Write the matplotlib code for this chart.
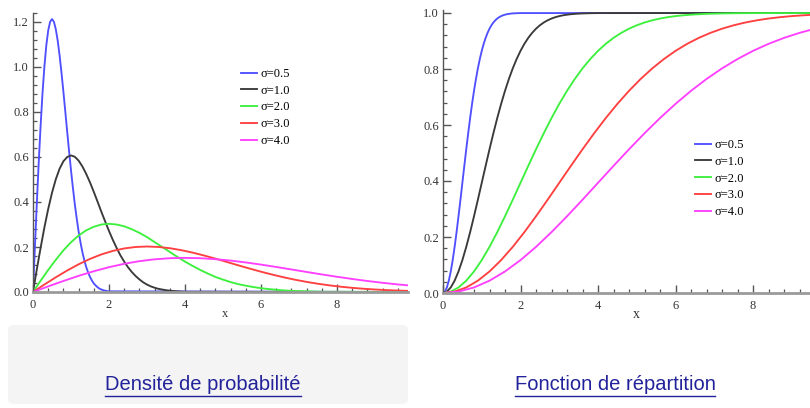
import matplotlib
matplotlib.use("Agg")
import matplotlib.pyplot as plt
from matplotlib.ticker import MultipleLocator, AutoMinorLocator, FormatStrFormatter
from matplotlib.patches import FancyBboxPatch
from matplotlib.lines import Line2D

# ---------------- data ----------------
labels = ["σ=0.5", "σ=1.0", "σ=2.0", "σ=3.0", "σ=4.0"]
colors = ["#5050ff", "#3a3a3a", "#3ef03e", "#ff4040", "#ff40ff"]

# x positions where values were read
x_05 = [0, 0.05, 0.1, 0.15, 0.2, 0.25, 0.3, 0.35, 0.4, 0.45, 0.5, 0.55, 0.6, 0.65,
        0.7, 0.75, 0.8, 0.85, 0.9, 0.95, 1.0, 1.05, 1.1, 1.15, 1.2, 1.25, 1.3,
        1.35, 1.4, 1.45, 1.5, 1.55, 1.6, 1.65, 1.7, 1.75, 1.8, 1.85, 1.9, 1.95,
        2.0, 9.9]
x_10 = [0, 0.1, 0.2, 0.3, 0.4, 0.5, 0.6, 0.7, 0.8, 0.9, 1.0, 1.1, 1.2, 1.3, 1.4,
        1.5, 1.6, 1.7, 1.8, 1.9, 2.0, 2.1, 2.2, 2.3, 2.4, 2.5, 2.6, 2.7, 2.8, 2.9,
        3.0, 3.1, 3.2, 3.3, 3.4, 3.5, 3.6, 3.7, 3.8, 3.9, 4.0, 9.9]
x_20 = [0, 0.2, 0.4, 0.6, 0.8, 1.0, 1.2, 1.4, 1.6, 1.8, 2.0, 2.2, 2.4, 2.6, 2.8,
        3.0, 3.2, 3.4, 3.6, 3.8, 4.0, 4.2, 4.4, 4.6, 4.8, 5.0, 5.2, 5.4, 5.6, 5.8,
        6.0, 6.2, 6.4, 6.6, 6.8, 7.0, 7.2, 7.4, 7.6, 7.8, 8.0, 9.9]
x_30 = [0, 0.3, 0.6, 0.9, 1.2, 1.5, 1.8, 2.1, 2.4, 2.7, 3.0, 3.3, 3.6, 3.9, 4.2,
        4.5, 4.8, 5.1, 5.4, 5.7, 6.0, 6.3, 6.6, 6.9, 7.2, 7.5, 7.8, 8.1, 8.4, 8.7,
        9.0, 9.3, 9.6, 9.9]
x_40 = [0, 0.4, 0.8, 1.2, 1.6, 2.0, 2.4, 2.8, 3.2, 3.6, 4.0, 4.4, 4.8, 5.2, 5.6,
        6.0, 6.4, 6.8, 7.2, 7.6, 8.0, 8.4, 8.8, 9.2, 9.6, 10.0]

# Probability density values
pdf_05 = [0, 0.199, 0.392, 0.574, 0.738, 0.883, 1.002, 1.096, 1.162, 1.201, 1.213,
          1.201, 1.168, 1.117, 1.051, 0.974, 0.890, 0.802, 0.712, 0.625, 0.541,
          0.463, 0.391, 0.327, 0.269, 0.220, 0.177, 0.141, 0.111, 0.087, 0.067,
          0.051, 0.038, 0.029, 0.021, 0.015, 0.011, 0.008, 0.006, 0.004, 0.003, 0.0]
pdf_10 = [0, 0.100, 0.196, 0.287, 0.369, 0.441, 0.501, 0.548, 0.581, 0.600, 0.607,
          0.601, 0.584, 0.558, 0.525, 0.487, 0.445, 0.401, 0.356, 0.313, 0.271,
          0.232, 0.196, 0.163, 0.135, 0.110, 0.089, 0.071, 0.056, 0.043, 0.033,
          0.025, 0.019, 0.014, 0.011, 0.008, 0.006, 0.004, 0.003, 0.002, 0.001, 0.0]
pdf_20 = [0, 0.050, 0.098, 0.143, 0.185, 0.221, 0.251, 0.274, 0.290, 0.300, 0.303,
          0.300, 0.292, 0.279, 0.263, 0.244, 0.222, 0.200, 0.178, 0.156, 0.135,
          0.116, 0.098, 0.082, 0.067, 0.055, 0.044, 0.035, 0.028, 0.022, 0.017,
          0.013, 0.010, 0.007, 0.005, 0.004, 0.003, 0.002, 0.001, 0.001, 0.001, 0.0]
pdf_30 = [0, 0.0332, 0.0653, 0.0956, 0.1231, 0.1471, 0.1671, 0.1826, 0.1936,
          0.2001, 0.2022, 0.2002, 0.1947, 0.1861, 0.1751, 0.1623, 0.1483, 0.1336,
          0.1187, 0.1042, 0.0902, 0.0772, 0.0652, 0.0544, 0.0449, 0.0366, 0.0295,
          0.0235, 0.0185, 0.0144, 0.0111, 0.0085, 0.0064, 0.0048]
pdf_40 = [0, 0.0249, 0.0490, 0.0717, 0.0923, 0.1103, 0.1253, 0.1370, 0.1452,
          0.1501, 0.1516, 0.1502, 0.1460, 0.1396, 0.1314, 0.1218, 0.1112, 0.1002,
          0.0891, 0.0781, 0.0677, 0.0579, 0.0489, 0.0408, 0.0337, 0.0275]

# Cumulative distribution values
cdf_05 = [0, 0.0050, 0.0198, 0.0440, 0.0769, 0.1175, 0.1647, 0.2173, 0.2739,
          0.3330, 0.3935, 0.4539, 0.5132, 0.5704, 0.6247, 0.6754, 0.7220, 0.7643,
          0.8021, 0.8355, 0.8647, 0.8898, 0.9111, 0.9290, 0.9439, 0.9561, 0.9660,
          0.9739, 0.9802, 0.9851, 0.9889, 0.9918, 0.9940, 0.9957, 0.9969, 0.9978,
          0.9985, 0.9989, 0.9993, 0.9995, 0.9997, 1.0]
cdf_10 = list(cdf_05)
cdf_20 = list(cdf_05)
cdf_30 = [0, 0.0050, 0.0198, 0.0440, 0.0769, 0.1175, 0.1647, 0.2173, 0.2739,
          0.3330, 0.3935, 0.4539, 0.5132, 0.5704, 0.6247, 0.6754, 0.7220, 0.7643,
          0.8021, 0.8355, 0.8647, 0.8898, 0.9111, 0.9290, 0.9439, 0.9561, 0.9660,
          0.9739, 0.9802, 0.9851, 0.9889, 0.9918, 0.9940, 0.9957]
cdf_40 = [0, 0.0050, 0.0198, 0.0440, 0.0769, 0.1175, 0.1647, 0.2173, 0.2739,
          0.3330, 0.3935, 0.4539, 0.5132, 0.5704, 0.6247, 0.6754, 0.7220, 0.7643,
          0.8021, 0.8355, 0.8647, 0.8898, 0.9111, 0.9290, 0.9439, 0.9561]

titles = ["Densité de probabilité", "Fonction de répartition"]
xlabel = "x"

pdf_series = [(x_05, pdf_05), (x_10, pdf_10), (x_20, pdf_20),
              (x_30, pdf_30), (x_40, pdf_40)]
cdf_series = [(x_05, cdf_05), (x_10, cdf_10), (x_20, cdf_20),
              (x_30, cdf_30), (x_40, cdf_40)]

# ---------------- figure ----------------
W, H = 810, 408
fig = plt.figure(figsize=(W / 100, H / 100), dpi=100)
fig.patch.set_facecolor("white")

def fx(px):
    return px / W

def fy(py):
    return 1 - py / H

# light grey panel under the left chart
bg = FancyBboxPatch((fx(8), fy(404)), fx(400), (404 - 325) / H,
                    boxstyle="round,pad=0,rounding_size=0.01",
                    transform=fig.transFigure, facecolor="#f4f4f4",
                    edgecolor="none", zorder=0)
fig.add_artist(bg)

serif = "Liberation Serif"
tick_fs = 9

def style_axes(ax, ymajor):
    ax.set_facecolor("none")
    for s in ["top", "right"]:
        ax.spines[s].set_visible(False)
    ax.spines["left"].set_color("#555555")
    ax.spines["left"].set_linewidth(1.0)
    ax.spines["bottom"].set_color("#9a9a9a")
    ax.spines["bottom"].set_linewidth(2.0)
    ax.xaxis.set_major_locator(MultipleLocator(2))
    ax.xaxis.set_minor_locator(AutoMinorLocator(5))
    ax.yaxis.set_major_locator(MultipleLocator(ymajor))
    ax.yaxis.set_minor_locator(AutoMinorLocator(5))
    ax.xaxis.set_major_formatter(FormatStrFormatter("%d"))
    ax.yaxis.set_major_formatter(FormatStrFormatter("%.1f"))
    ax.tick_params(axis="both", which="major", direction="in", length=6,
                   width=1.0, color="#555555", labelsize=tick_fs,
                   labelcolor="#333333")
    ax.tick_params(axis="both", which="minor", direction="in", length=3,
                   width=0.9, color="#555555")
    ax.tick_params(axis="x", which="major", pad=5)
    ax.tick_params(axis="y", which="major", pad=3)
    for lab in ax.get_xticklabels() + ax.get_yticklabels():
        lab.set_fontfamily(serif)

# left axes: density
ax1 = fig.add_axes([fx(33), fy(292), fx(408 - 33), (292 - 13) / H])
for (xs, ys), c, lab in zip(pdf_series, colors, labels):
    ax1.plot(xs, ys, color=c, lw=1.35, label=lab, solid_joinstyle="round")
ax1.set_xlim(0, (408 - 33) / 38.0)
ax1.set_ylim(0, (292 - 13) / 225.0)
style_axes(ax1, 0.2)

# right axes: CDF
ax2 = fig.add_axes([fx(443), fy(293), fx(810 - 443), (293 - 10) / H])
for (xs, ys), c, lab in zip(cdf_series, colors, labels):
    ax2.plot(xs, ys, color=c, lw=1.35, label=lab, solid_joinstyle="round")
ax2.set_xlim(0, (810 - 443) / 38.75)
ax2.set_ylim(0, (293 - 10) / 280.0)
style_axes(ax2, 0.2)

# legends
leg_kw = dict(frameon=False, loc="upper left", prop={"family": serif, "size": 9},
              handlelength=1.3, handletextpad=0.25, labelspacing=0.38,
              borderpad=0, borderaxespad=0)
fig.legend(handles=ax1.get_lines(), labels=labels,
           bbox_to_anchor=(fx(241), fy(68)), bbox_transform=fig.transFigure,
           **leg_kw)
fig.legend(handles=ax2.get_lines(), labels=labels,
           bbox_to_anchor=(fx(695), fy(139)), bbox_transform=fig.transFigure,
           **leg_kw)

# axis labels "x"
fig.text(fx(225), fy(314), xlabel, family=serif, size=9, color="#333333",
         ha="center", va="center")
fig.text(fx(636), fy(315), xlabel, family=serif, size=10, color="#333333",
         ha="center", va="center")

# titles (underlined, link style)
title_color = "#22229a"
title_txts = []
for cx, t in zip([203, 615], titles):
    tt = fig.text(fx(cx), fy(385), t, family="Liberation Sans", size=14.5,
                  color=title_color, ha="center", va="center")
    title_txts.append(tt)

fig.canvas.draw()
renderer = fig.canvas.get_renderer()
inv = fig.transFigure.inverted()
for tt in title_txts:
    bb = tt.get_window_extent(renderer)
    (x0, y0), (x1, y1) = inv.transform([(bb.x0, bb.y0), (bb.x1, bb.y1)])
    fig.add_artist(Line2D([x0, x1], [y0 - 0.003, y0 - 0.003],
                          transform=fig.transFigure, color=title_color, lw=1.0))

fig.savefig("out.png", dpi=100, facecolor="white")
